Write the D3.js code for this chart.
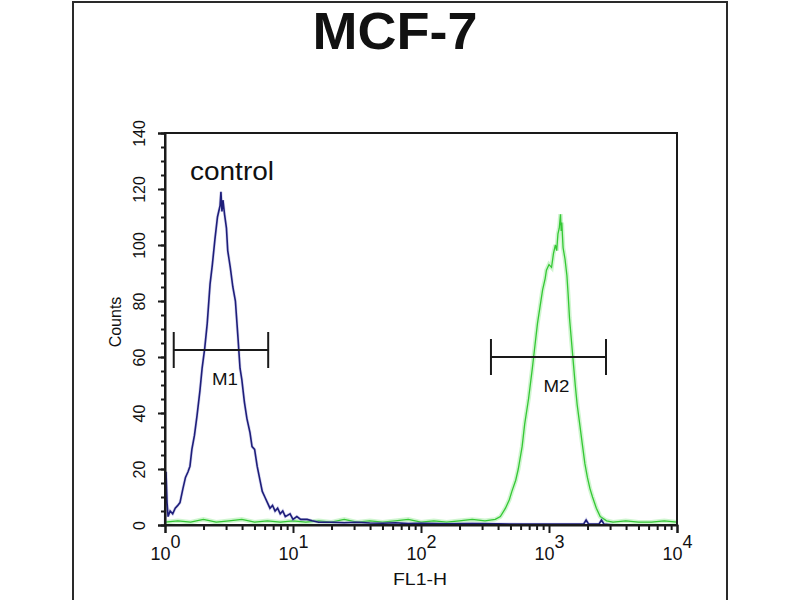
<!DOCTYPE html>
<html>
<head>
<meta charset="utf-8">
<script src="https://cdn.jsdelivr.net/npm/d3@7"></script>
<style>
  html, body { margin: 0; padding: 0; background: #fff; }
  svg { display: block; }
  text { font-family: "Liberation Sans", Arial, Helvetica, sans-serif; fill: #111; }
</style>
</head>
<body>
<svg id="chart" width="800" height="600"></svg>
<script>
// ---------------- data ----------------
const title = "MCF-7";
const xLabel = "FL1-H";
const yLabel = "Counts";
const controlLabel = "control";

const yTicks = [0, 20, 40, 60, 80, 100, 120, 140];
const xDecades = [0, 1, 2, 3, 4]; // labels 10^0 .. 10^4

// control histogram (blue): positions in log10(FL1-H), counts
const blueLogFL1 = [0.000, 0.008, 0.016, 0.024, 0.040, 0.060, 0.080, 0.100, 0.117, 0.140, 0.160, 0.180, 0.195, 0.210,
  0.230, 0.250, 0.273, 0.290, 0.310, 0.330, 0.352, 0.370, 0.390, 0.410, 0.430, 0.437, 0.445, 0.453, 0.465, 0.480,
  0.490, 0.500, 0.510, 0.530, 0.550, 0.570, 0.586, 0.600, 0.620, 0.640, 0.664, 0.680, 0.700, 0.720, 0.742, 0.760,
  0.780, 0.800, 0.820, 0.840, 0.860, 0.880, 0.900, 0.920, 0.940, 0.977, 1.000, 1.030, 1.060, 1.110, 1.150, 1.200,
  1.300, 1.400, 1.500, 1.600, 1.700, 1.800, 1.900, 2.000, 2.200, 2.400, 2.600, 2.800, 3.000, 3.200, 3.270, 3.290,
  3.310, 3.390, 3.410, 3.430, 3.500];
const blueCounts = [0, 19, 8, 3, 5, 4, 6, 7, 8, 13, 17, 19, 21, 27,
  32, 39, 48, 56, 63, 72, 86, 93, 102, 110, 114, 119, 112, 116, 111, 106,
  98, 95, 92, 85, 80, 67, 56, 52, 44, 38, 33, 28, 27, 21, 16, 12,
  10, 8, 6, 7, 5, 6, 4, 5, 3, 4, 2, 3, 2, 2, 1.5, 1,
  1, 0.8, 1, 0.7, 0.6, 0.8, 0.5, 0.6, 0.4, 0.5, 0.4, 0.3, 0.3, 0.3, 0.3, 1.8,
  0.3, 0.3, 1.8, 0.3, 0];

// sample histogram (green)
const greenLogFL1 = [0.00, 0.10, 0.20, 0.30, 0.40, 0.50, 0.60, 0.70, 0.80, 0.90, 1.00, 1.10, 1.20, 1.30, 1.40,
  1.50, 1.60, 1.70, 1.80, 1.90, 2.00, 2.10, 2.20, 2.30, 2.40, 2.50, 2.58, 2.62, 2.66, 2.69, 2.71, 2.74, 2.76,
  2.79, 2.81, 2.84, 2.87, 2.89, 2.91, 2.93, 2.95, 2.97, 2.98, 3.00, 3.02, 3.035, 3.05, 3.06, 3.07, 3.08, 3.09,
  3.095, 3.10, 3.11, 3.125, 3.14, 3.15, 3.16, 3.175, 3.19, 3.205, 3.22, 3.24, 3.26, 3.28, 3.30, 3.32, 3.34,
  3.37, 3.40, 3.45, 3.50, 3.60, 3.70, 3.80, 3.90, 4.00];
const greenCounts = [1, 1.5, 1, 2, 1, 1.5, 2, 1, 1.5, 1, 1.5, 1, 1.5, 1, 2,
  1, 1.5, 1, 1.5, 2, 1, 1.5, 1, 1.5, 2, 1.5, 2, 3, 6, 9, 12, 16, 20,
  28, 36, 45, 56, 64, 72, 78, 84, 88, 91, 93, 92, 97, 100, 98, 104, 106, 111,
  105, 108, 99, 95, 89, 82, 74, 66, 58, 50, 43, 36, 29, 22, 17, 13, 10,
  6, 3, 1.5, 1, 1.5, 1, 1, 1.5, 1];

// gates
const markerNames = ["M1", "M2"];
const markerLow = [1.17, 352];
const markerHigh = [6.4, 2787];
const markerCount = [62.5, 60];

// ---------------- drawing ----------------
const svg = d3.select("#chart");
const pLeft = 165, pRight = 677, pTop = 133, pBottom = 525;

const x = d3.scaleLog().domain([1, 1e4]).range([pLeft, pRight]);
const y = d3.scaleLinear().domain([0, 140]).range([pBottom, pTop]);

// outer frame
svg.append("path")
  .attr("d", "M73,601 L73,2 L727,2 L727,601")
  .attr("fill", "none").attr("stroke", "#2a2a2a").attr("stroke-width", 2);

// title
svg.append("text").attr("x", 395).attr("y", 49)
  .attr("text-anchor", "middle")
  .style("font-size", "52px").style("font-weight", "bold")
  .attr("textLength", 165).attr("lengthAdjust", "spacingAndGlyphs")
  .text(title);

// histograms
const blueData = blueLogFL1.map((v, i) => [Math.pow(10, v), blueCounts[i]]);
const greenData = greenLogFL1.map((v, i) => [Math.pow(10, v), greenCounts[i]]);
const line = d3.line().x(d => x(d[0])).y(d => y(d[1]));

const plot = svg.append("g");
plot.append("path").datum(greenData).attr("d", line)
  .attr("fill", "none").attr("stroke", "#a8eca8").attr("stroke-width", 4.5).attr("stroke-opacity", 0.55);
plot.append("path").datum(greenData).attr("d", line)
  .attr("fill", "none").attr("stroke", "#34c834").attr("stroke-width", 1.3);
plot.append("path").datum(blueData).attr("d", line)
  .attr("fill", "none").attr("stroke", "#9a9ad6").attr("stroke-width", 3).attr("stroke-opacity", 0.4);
plot.append("path").datum(blueData).attr("d", line)
  .attr("fill", "none").attr("stroke", "#1e1e7a").attr("stroke-width", 1.6);

// markers
markerNames.forEach((name, i) => {
  const g = svg.append("g");
  const x0 = x(markerLow[i]), x1 = x(markerHigh[i]), yy = y(markerCount[i]);
  g.append("line").attr("x1", x0).attr("x2", x1).attr("y1", yy).attr("y2", yy)
    .attr("stroke", "#1a1a1a").attr("stroke-width", 2);
  [x0, x1].forEach(xx => g.append("line").attr("x1", xx).attr("x2", xx)
    .attr("y1", yy - 18).attr("y2", yy + 18).attr("stroke", "#1a1a1a").attr("stroke-width", 2));
  g.append("text").attr("x", (x0 + x1) / 2 + (i === 0 ? 4 : 8)).attr("y", yy + 35)
    .attr("text-anchor", "middle").style("font-size", "16px")
    .attr("textLength", 26).attr("lengthAdjust", "spacingAndGlyphs")
    .text(name);
});

// control label
svg.append("text").attr("x", 232).attr("y", 180).attr("text-anchor", "middle")
  .style("font-size", "25px")
  .attr("textLength", 84).attr("lengthAdjust", "spacingAndGlyphs")
  .text(controlLabel);

// plot box
svg.append("rect").attr("x", pLeft).attr("y", pTop)
  .attr("width", pRight - pLeft).attr("height", pBottom - pTop)
  .attr("fill", "none").attr("stroke", "#1a1a1a").attr("stroke-width", 2);

// y axis
const yMinor = d3.range(0, 141, 5);
svg.append("g").attr("transform", `translate(${pLeft},0)`)
  .call(d3.axisLeft(y).tickValues(yMinor).tickSize(4).tickFormat(""))
  .call(g => g.select(".domain").remove())
  .call(g => g.selectAll("line").attr("stroke", "#1a1a1a").attr("stroke-width", 2));
const yAxis = svg.append("g").attr("transform", `translate(${pLeft},0)`)
  .call(d3.axisLeft(y).tickValues(yTicks).tickSize(7))
  .call(g => g.select(".domain").attr("stroke", "#1a1a1a").attr("stroke-width", 2));
yAxis.selectAll("line").attr("stroke", "#1a1a1a").attr("stroke-width", 2);
yAxis.selectAll("text")
  .attr("x", null).attr("dy", null)
  .attr("transform", "translate(-20,0) rotate(-90)")
  .attr("text-anchor", "middle")
  .style("font-size", "16px").style("font-family", "'Liberation Sans', Arial, sans-serif")
  .attr("fill", "#111");

svg.append("text").attr("transform", "translate(121,322) rotate(-90)")
  .attr("text-anchor", "middle").style("font-size", "16px")
  .text(yLabel);

// x axis
const xMinor = [];
xDecades.slice(0, -1).forEach(d => { for (let m = 2; m <= 9; m++) xMinor.push(m * Math.pow(10, d)); });
svg.append("g").attr("transform", `translate(0,${pBottom})`)
  .call(d3.axisBottom(x).tickValues(xMinor).tickSize(5).tickFormat(""))
  .call(g => g.select(".domain").remove())
  .call(g => g.selectAll("line").attr("stroke", "#1a1a1a").attr("stroke-width", 2));
const xAxis = svg.append("g").attr("transform", `translate(0,${pBottom})`)
  .call(d3.axisBottom(x).tickValues(xDecades.map(d => Math.pow(10, d))).tickSize(8).tickFormat(""))
  .call(g => g.select(".domain").attr("stroke", "#1a1a1a").attr("stroke-width", 2));
xAxis.selectAll("line").attr("stroke", "#1a1a1a").attr("stroke-width", 2);
xAxis.selectAll(".tick").each(function(d, i) {
  const t = d3.select(this).append("text")
    .attr("y", 35).attr("text-anchor", "middle")
    .style("font-size", "18px").attr("fill", "#111");
  t.append("tspan").text("10");
  t.append("tspan").attr("dy", -12).text(String(xDecades[i]));
});

svg.append("text").attr("x", 420).attr("y", 585).attr("text-anchor", "middle")
  .style("font-size", "17px")
  .attr("textLength", 54).attr("lengthAdjust", "spacingAndGlyphs")
  .text(xLabel);
</script>
</body>
</html>
